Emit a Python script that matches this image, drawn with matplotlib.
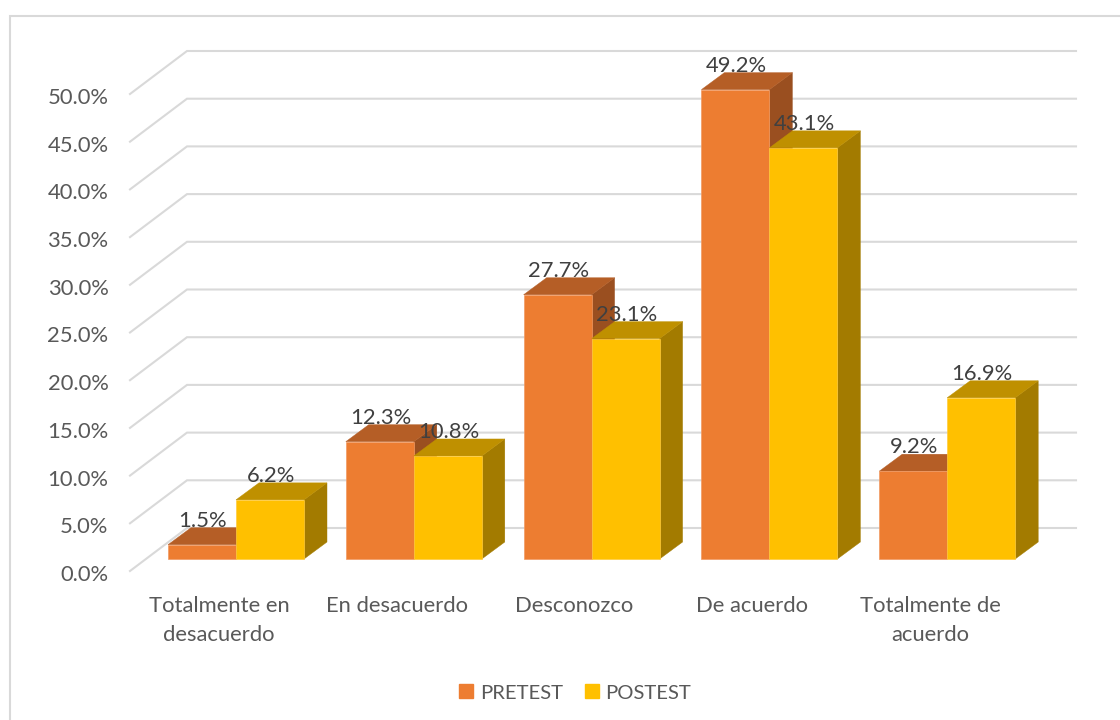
import matplotlib
matplotlib.use('Agg')
import matplotlib.pyplot as plt
from matplotlib.patches import Patch, Rectangle
from matplotlib.transforms import ScaledTranslation

#===数据
categorias = ['Totalmente en\ndesacuerdo', 'En desacuerdo', 'Desconozco', 'De acuerdo', 'Totalmente de\nacuerdo']
pretest = [1.5, 12.3, 27.7, 49.2, 9.2]
postest = [6.2, 10.8, 23.1, 43.1, 16.9]
y_ticks = [0, 5, 10, 15, 20, 25, 30, 35, 40, 45, 50]

#===颜色 (front, top, side, edge)
c_pre = ('#ED7D31', '#B55E26', '#9A4F20', '#F29A62')
c_post = ('#FFC000', '#BF9000', '#A37B00', '#FFCB3D')
c_grid = '#D9D9D9'
c_text = '#595959'
c_label = '#404040'
fs = 15.8

plt.rcParams['font.family'] = ['Lato', 'DejaVu Sans']

W, H = 1120, 720
fig = plt.figure(figsize=(W / 100, H / 100), dpi=100)

# plot plane in pixels: x 130-1019, y 571-94
ax = fig.add_axes([130 / W, 1 - 571 / H, 889 / W, 477 / H])
ax.set_xlim(0, 5)
ax.set_ylim(0, 50)
for s in ax.spines.values():
    s.set_visible(False)

px_x = 5 / 889  # one pixel in x units
px_y = 50 / 477  # one pixel in y units

# oblique offsets
wall_dx, wall_dy = 57 * px_x, 43 * px_y
base_dx, base_dy = 16 * px_x, 12 * px_y
deep_dx, deep_dy = 23 * px_x, 17 * px_y
bar_w = 68 * px_x
gap = 22 * px_x

# walls
for v in y_ticks:
    ax.plot([0, wall_dx, 5 + wall_dx], [v, v + wall_dy, v + wall_dy],
            color=c_grid, lw=1.5, clip_on=False, zorder=1, solid_joinstyle='miter')


def draw_bar(x, val, colors, z):
    y0 = base_dy
    y1 = base_dy + val
    ax.bar(x, val, bar_w, bottom=y0, align='edge', color=colors[0], zorder=z + 0.2,
           clip_on=False, edgecolor=colors[3], linewidth=0.5)
    ax.fill([x, x + deep_dx, x + bar_w + deep_dx, x + bar_w],
            [y1, y1 + deep_dy, y1 + deep_dy, y1],
            color=colors[1], zorder=z + 0.1, clip_on=False, lw=0.3)
    ax.fill([x + bar_w, x + bar_w + deep_dx, x + bar_w + deep_dx, x + bar_w],
            [y0, y0 + deep_dy, y1 + deep_dy, y1],
            color=colors[2], zorder=z, clip_on=False, lw=0.3)
    ax.text(x + bar_w / 2 + px_x, y1 + deep_dy + px_y, '%.1f%%' % val, ha='center', va='baseline',
            fontsize=fs, color=c_label, zorder=20, clip_on=False)


for i in range(len(categorias)):
    x0 = i + base_dx + gap
    draw_bar(x0, pretest[i], c_pre, 2 + i)
    draw_bar(x0 + bar_w, postest[i], c_post, 2.5 + i)

ax.set_yticks(y_ticks)
ax.set_yticklabels(['%.1f%%' % v for v in y_ticks], va='center_baseline')
ax.set_xticks([i + 0.5 for i in range(len(categorias))])
ax.set_xticklabels(categorias, linespacing=1.58)
ax.tick_params(axis='y', length=0, pad=15.5, labelsize=fs, labelcolor=c_text)
ax.tick_params(axis='x', length=0, pad=17.8, labelsize=fs, labelcolor=c_text)

# y labels sit 2 px lower than the tick
shift = ScaledTranslation(0, -2 / 100, fig.dpi_scale_trans)
for t in ax.get_yticklabels():
    t.set_transform(t.get_transform() + shift)

# legend
handles = [Patch(color=c_pre[0], label='PRETEST'), Patch(color=c_post[0], label='POSTEST')]
fig.legend(handles=handles, loc='center', bbox_to_anchor=(575 / W, 1 - 693 / H), ncol=2,
           frameon=False, fontsize=14.6, labelcolor=c_text, handlelength=0.69, handleheight=0.69,
           handletextpad=0.34, columnspacing=1.08)

# chart frame
fig.add_artist(Rectangle((9.5 / W, -0.01), 1.1, 1 - 15.5 / H + 0.01, transform=fig.transFigure,
                         fill=False, edgecolor=c_grid, lw=1.5))

fig.savefig('out.png', dpi=100)
